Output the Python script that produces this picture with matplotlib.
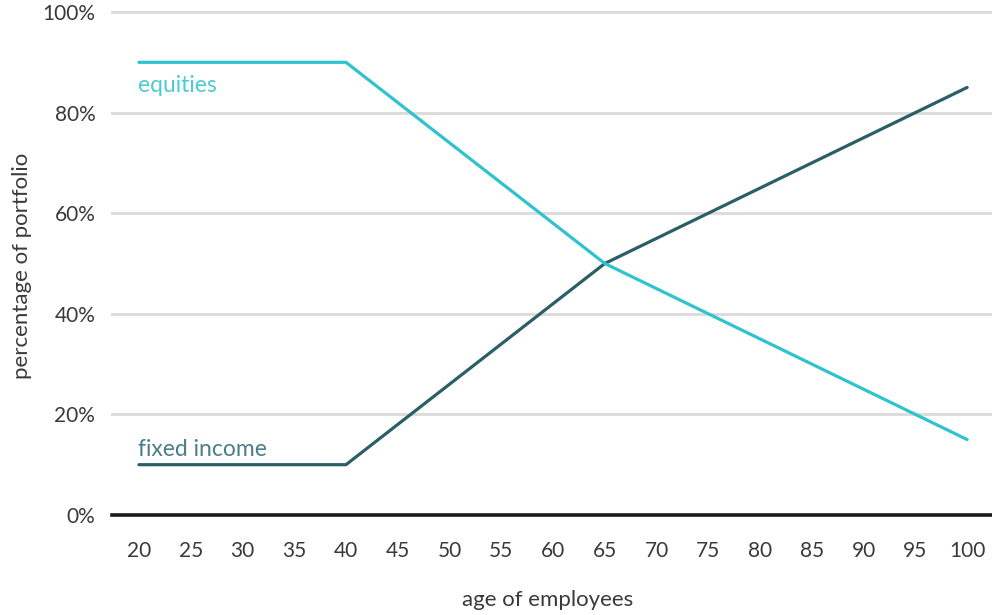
import matplotlib
matplotlib.use("Agg")
import matplotlib.pyplot as plt
from matplotlib.ticker import FuncFormatter

# Glide-path allocation by age
ages = [20, 40, 65, 100]
equities = [90, 90, 50, 15]
fixed_income = [10, 10, 50, 85]
x_ticks = list(range(20, 101, 5))
y_ticks = [0, 20, 40, 60, 80, 100]

EQ_COLOR = "#2EC3CE"
FI_COLOR = "#2B5F66"
TEXT = "#3a3a3a"

plt.rcParams["font.family"] = ["Lato", "DejaVu Sans"]

fig = plt.figure(figsize=(9.92, 6.15), dpi=100)
ax = fig.add_axes([112 / 992, 1 - 515 / 615, 880 / 992, 503 / 615])

ax.set_xlim(17.4, 102.4)
ax.set_ylim(0, 100)

for y in y_ticks:
    if y == 0:
        ax.axhline(y, color="#1a1a1a", lw=2.6, zorder=3, clip_on=False)
    else:
        ax.axhline(y, color="#dcdcdc", lw=2.2, zorder=1, clip_on=False)

ax.plot(ages, fixed_income, color=FI_COLOR, lw=2.3, zorder=4,
        solid_capstyle="round", solid_joinstyle="round")
ax.plot(ages, equities, color=EQ_COLOR, lw=2.3, zorder=5,
        solid_capstyle="round", solid_joinstyle="round")

ax.text(19.9, 85.3, "equities", color="#4ECAD4", fontsize=16.5,
        ha="left", va="center")
ax.text(19.9, 13.1, "fixed income", color="#4A7F86", fontsize=16.5,
        ha="left", va="center")

for s in ax.spines.values():
    s.set_visible(False)

ax.set_xticks(x_ticks)
ax.set_yticks(y_ticks)
ax.yaxis.set_major_formatter(FuncFormatter(lambda v, p: f"{v:.0f}%"))
ax.tick_params(axis="both", length=0, labelsize=15, labelcolor=TEXT)
ax.tick_params(axis="x", pad=19)
ax.tick_params(axis="y", pad=12)

fig.text(548 / 992, 1 - 600 / 615, "age of employees", ha="center", va="center",
         fontsize=16, color=TEXT)
fig.text(22 / 992, 1 - 266 / 615, "percentage of portfolio", ha="center", va="center",
         rotation=90, fontsize=16, color=TEXT)

fig.savefig("out.png", dpi=100, facecolor="white")
